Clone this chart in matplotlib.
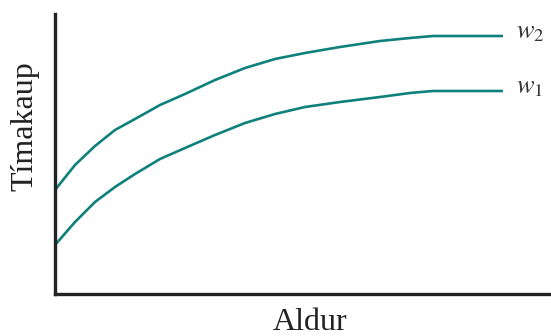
import matplotlib as mpl
import matplotlib.pyplot as plt

mpl.rcParams["font.family"] = "Liberation Serif"
mpl.rcParams["mathtext.fontset"] = "stix"

# age (arbitrary units) and wage curves
aldur = [0, 20, 40, 60, 80, 105, 130, 160, 190, 220, 250, 285, 325, 355, 378, 448]
w2 = [104, 129, 148, 164, 175, 189, 200, 214, 226, 235, 241, 247, 253, 256, 258, 258]
w1 = [49, 72, 92, 107, 120, 135, 146, 159, 171, 180, 187, 192, 197, 201, 203, 203]
labels = ["$w_2$", "$w_1$"]

teal = "#0f817c"

fig = plt.figure(figsize=(5.51, 3.36), dpi=100)
ax = fig.add_axes([55 / 551, 42 / 336, 496 / 551, 280 / 336])

for y, lab in zip([w2, w1], labels):
    ax.plot(aldur, y, color=teal, lw=1.9, solid_capstyle="butt")
    ax.annotate(lab, (aldur[-1], y[-1]), xytext=(9, 2), textcoords="offset points",
                fontsize=19, va="center", ha="left", color="#333333")

ax.set_xlim(0, 496)
ax.set_ylim(0, 280)
ax.set_xticks([])
ax.set_yticks([])
for side in ["top", "right"]:
    ax.spines[side].set_visible(False)
ax.spines["left"].set_linewidth(2.4)
ax.spines["bottom"].set_linewidth(2.4)
ax.spines["left"].set_color("#222222")
ax.spines["bottom"].set_color("#222222")

fig.text(25 / 551, 1 - 126 / 336, "Tímakaup", rotation=90, fontsize=23,
         ha="center", va="center", color="#222222")
fig.text(310 / 551, 1 - 322 / 336, "Aldur", fontsize=23,
         ha="center", va="center", color="#222222")

fig.savefig("out.png", dpi=100)
